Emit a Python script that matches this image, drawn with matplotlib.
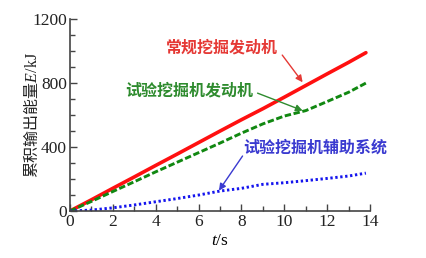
import numpy as np
import matplotlib.pyplot as plt
from matplotlib.ticker import MultipleLocator

# --- data ---
t = [0, 1, 2, 3, 4, 5, 6, 7, 8, 9, 10, 11, 12, 13, 13.8]
e_conv = [0, 70, 142, 213, 285, 356, 428, 500, 571, 640, 712, 785, 858, 930, 990]
e_test = [0, 60, 122, 183, 245, 305, 365, 425, 487, 545, 594, 628, 685, 743, 800]
e_aux = [0, 6, 20, 38, 58, 78, 100, 125, 142, 167, 177, 190, 204, 219, 237]

label_conv = "常规挖掘发动机"
label_test = "试验挖掘机发动机"
label_aux = "试验挖掘机辅助系统"

plt.rcParams["mathtext.fontset"] = "custom"
plt.rcParams["mathtext.it"] = "Liberation Serif:italic"
plt.rcParams["mathtext.rm"] = "Liberation Serif"

cjk = ["Noto Sans CJK SC", "DejaVu Sans"]

fig = plt.figure(figsize=(4.26, 2.58), dpi=100)
ax = fig.add_axes([0.164, 0.182, 0.705, 0.744])

ax.plot(t, e_conv, color="#ff1010", lw=2.6, solid_capstyle="round")
ax.plot(t, e_test, color="#118811", lw=2.1, ls=(0, (2.2, 0.9)))
ax.plot(t, e_aux, color="#1515ee", lw=2.1, ls=(0, (0.8, 0.9)))

ax.set_xlim(0, 14)
ax.set_ylim(0, 1200)
ax.xaxis.set_major_locator(MultipleLocator(2))
ax.xaxis.set_minor_locator(MultipleLocator(1))
ax.yaxis.set_major_locator(MultipleLocator(400))
ax.yaxis.set_minor_locator(MultipleLocator(100))
ax.tick_params(which="both", direction="in", color="#444444", width=1)
ax.tick_params(which="major", length=5, labelsize=12.5, pad=2)
ax.tick_params(which="minor", length=3.5)
for lab in ax.get_xticklabels() + ax.get_yticklabels():
    lab.set_family("Liberation Serif")
    lab.set_color("#222222")

for side in ["top", "right"]:
    ax.spines[side].set_visible(False)
for side in ["left", "bottom"]:
    ax.spines[side].set_color("#444444")
    ax.spines[side].set_linewidth(1.2)

ax.set_xlabel("$t\\mathrm{/s}$", fontsize=12.5, labelpad=1)
# CJK part through the text font, E italic and unit through mathtext
ax.set_ylabel("累积输出能量$E\\mathrm{/kJ}$", fontsize=11.5, family=cjk,
              color="#222222")
ax.yaxis.set_label_coords(-0.097, 0.5)

# --- annotations with arrows ---
def note(text, xy, xytext, tail, color):
    ax.text(xytext[0], xytext[1], text, color=color, fontsize=11.5,
            fontweight="bold", family=cjk, ha="center", va="center")
    ax.annotate("", xy=xy, xytext=tail,
                arrowprops=dict(arrowstyle="-|>", color=color, lw=1.0,
                                mutation_scale=10, shrinkA=0, shrinkB=0))

note(label_conv, (10.85, 805), (7.1, 1025), (9.9, 975), "#e53935")
note(label_test, (10.85, 628), (5.55, 756), (8.75, 737), "#2e8b2e")
note(label_aux, (6.95, 128), (11.45, 394), (8.05, 344), "#3a3ad0")

fig.savefig("out.png", dpi=100)
